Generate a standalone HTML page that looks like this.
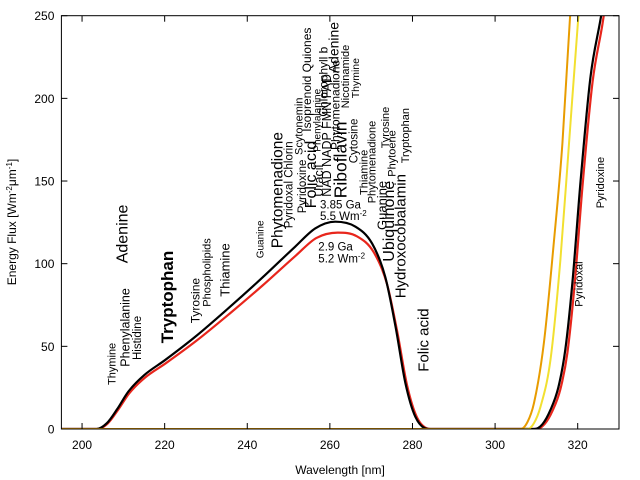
<!DOCTYPE html>
<html><head><meta charset="utf-8"><style>
html,body{margin:0;padding:0;background:#fff;}
svg{display:block;font-family:"Liberation Sans",sans-serif;}
</style></head><body>
<svg id="chart" width="640" height="480" viewBox="0 0 640 480">
<g id="plot"></g>
</svg>
<script>
const xTicks=[200,220,240,260,280,300,320];
const yTicks=[0,50,100,150,200,250];
const black1X=[195,203.5,206,208.5,211.2,215,220.1,227.4,235.4,243.5,251.6,256.5,261.3,266.2,270.2,273.4,275.9,278.3,280.7,283.9,309.5,311.5,313.4,315.3,317,318.7,320.7,323.1,325.5,326.5];
const black1Y=[0,0,3.5,12,22.6,32.5,41.7,55.8,73,91.2,110.3,121.4,125.4,122.4,112.3,92.1,61.9,27.6,7.4,0,0,3,11.5,25,48,88,150,213,247.4,262];
const redX=[195,203.7,206.2,208.7,211.4,215.2,220.3,227.6,235.6,243.7,251.8,256.7,261.9,266.6,270.6,273.8,276.3,278.7,281.1,284.4,310,312,313.9,315.8,317.5,319.2,321.2,323.6,326,327];
const redY=[0,0,3.3,11.5,21.5,31,39.8,53.2,69.5,86.8,105,115.5,118.8,116.5,107,88,59,26.3,7,0,0,3,11,24,46,86,148,210,245,262];
const orangeX=[195,306.2,307.8,309.4,311.8,314.2,316.3,318.1,318.6];
const orangeY=[0,0,4,15.5,51.8,112.3,172.8,247.4,262];
const yellowX=[195,307.8,309.4,311,313.4,315.8,317.9,320.1,320.6];
const yellowY=[0,0,3.5,13.5,41.7,102,172.8,247.4,262];
const labelText=["Thymine","Phenylalanine","Histidine","Adenine","Tryptophan","Tyrosine","Phospholipids","Thiamine","Guanine","Phytomenadione","Pyridoxal  Chlorin","Scytonemin","Pyridoxine","Folic acid","Isoprenoid Quiones","Uracil","NAD NADP FMN FAD","Phenylalanine","Chlorophyll b","Riboflavin","Phytomenadione","Adenine","Nicotinamide","Thymine","Cytosine","Thiamine","Phytomenadione","Guanine","Ubiquinone","Hydroxocobalamin","Tyrosine","Phytoene","Tryptophan","Folic acid","Pyridoxal","Pyridoxine"];
const labelCx=[111.7,125,136.7,121.7,166.7,195,206.7,225,260,276.7,288.3,298.3,301.7,310,306.7,318.3,326.7,316.7,323.3,340,335,333.3,345,355,353.3,363.3,371.7,381.7,388.3,400,385,391.7,405,423.3,578.3,600];
const labelBottom=[385,366.7,360,263.3,343.3,323.3,306.7,296.7,258.3,248.3,228.3,155,213.3,208.3,131.7,196.7,196.7,151.7,116.7,198.3,150,73.3,108.3,98.3,163.3,195,203.3,230,261.7,298.3,148.3,176.7,163.3,371.7,306.7,208.3];
const labelSize=[11,12.5,11.5,16,17,12,11,13,10,15.5,11.5,11,11.5,16,12,12.5,12.5,10,12,17.5,12,14,11,10.5,11.5,11,11,13,16,15,11,11,11,15,11,11];
const labelBold=[0,0,0,0,1,0,0,0,0,0,0,0,0,0,0,0,0,0,0,0,0,0,0,0,0,0,0,0,0,0,0,0,0,0,0,0];

const NS="http://www.w3.org/2000/svg";
const svg=document.getElementById('chart');
const plot=document.getElementById('plot');
const L=61.4,R=619,T=15.7,B=429;
const X0=195,X1=330,Y0=0,Y1=250;
function sx(v){return L+(v-X0)/(X1-X0)*(R-L);}
function sy(v){return B-(v-Y0)/(Y1-Y0)*(B-T);}
function mk(tag,attrs,parent){const e=document.createElementNS(NS,tag);for(const k in attrs)e.setAttribute(k,attrs[k]);(parent||svg).appendChild(e);return e;}

const defs=mk('defs',{});
const cp=mk('clipPath',{id:'clip'},defs);
mk('rect',{x:L,y:T,width:R-L,height:B-T},cp);

function monotonePath(xs,ys){
  const px=xs.map(sx),py=ys.map(sy),n=px.length;
  const d=[],m=[];
  for(let i=0;i<n-1;i++)d.push((py[i+1]-py[i])/(px[i+1]-px[i]));
  m[0]=d[0];m[n-1]=d[n-2];
  for(let i=1;i<n-1;i++){ if(d[i-1]*d[i]<=0)m[i]=0; else m[i]=(d[i-1]+d[i])/2; }
  for(let i=0;i<n-1;i++){ if(d[i]===0){m[i]=0;m[i+1]=0;continue;} const a=m[i]/d[i],b=m[i+1]/d[i],s=a*a+b*b; if(s>9){const t=3/Math.sqrt(s);m[i]=t*a*d[i];m[i+1]=t*b*d[i];} }
  let p='M'+px[0]+','+py[0];
  for(let i=0;i<n-1;i++){const h=(px[i+1]-px[i])/3;p+='C'+(px[i]+h)+','+(py[i]+m[i]*h)+' '+(px[i+1]-h)+','+(py[i+1]-m[i+1]*h)+' '+px[i+1]+','+py[i+1];}
  return p;
}
const g=mk('g',{'clip-path':'url(#clip)'},plot);
let el;
el=mk('path',{d:monotonePath(redX,redY),fill:'none',stroke:'#e8261c','stroke-width':2.2,'stroke-linejoin':'round'},g);


el=mk('path',{d:monotonePath(black1X,black1Y),fill:'none',stroke:'#000','stroke-width':2.2,'stroke-linejoin':'round'},g);


el=mk('path',{d:monotonePath(yellowX,yellowY),fill:'none',stroke:'#f2e030','stroke-width':2},g);


el=mk('path',{d:monotonePath(orangeX,orangeY),fill:'none',stroke:'#e89c00','stroke-width':2},g);



el=mk('rect',{x:L,y:T,width:R-L,height:B-T,fill:'none',stroke:'#000','stroke-width':1});


xTicks.forEach(v=>{
  const x=sx(v);
  mk('line',{x1:x,x2:x,y1:B,y2:B-6,stroke:'#000'});
  mk('line',{x1:x,x2:x,y1:T,y2:T+6,stroke:'#000'});
  const t=mk('text',{x:x,y:B+20,'text-anchor':'middle','font-size':12,fill:'#000'});
  t.textContent=v;
  
  
});
yTicks.forEach(v=>{
  const y=sy(v);
  mk('line',{x1:L,x2:L+6,y1:y,y2:y,stroke:'#000'});
  mk('line',{x1:R,x2:R-6,y1:y,y2:y,stroke:'#000'});
  const t=mk('text',{x:L-7,y:y+4.5,'text-anchor':'end','font-size':12,fill:'#000'});
  t.textContent=v;
  
  
});

labelText.forEach((s,i)=>{
  const fs=labelSize[i];
  const t=mk('text',{transform:'translate('+(labelCx[i]+fs*0.36)+','+labelBottom[i]+') rotate(-90)','font-size':fs,fill:'#000','font-weight':labelBold[i]?'bold':'normal','xml:space':'preserve'});
  t.textContent=s;
  
  
});
</script>
<svg style="position:absolute;left:0;top:0" width="640" height="480">
<text x="320" y="208.3" font-size="11.5" font-family="Liberation Sans, sans-serif">3.85 Ga</text>
<text x="320" y="220" font-size="11.5" font-family="Liberation Sans, sans-serif">5.5 Wm<tspan dy="-4" font-size="8">-2</tspan></text>
<text x="318.3" y="250.7" font-size="11.5" font-family="Liberation Sans, sans-serif">2.9 Ga</text>
<text x="318.3" y="262.7" font-size="11.5" font-family="Liberation Sans, sans-serif">5.2 Wm<tspan dy="-4" font-size="8">-2</tspan></text>
<text x="340" y="474" text-anchor="middle" font-size="12" font-family="Liberation Sans, sans-serif">Wavelength [nm]</text>
<text transform="translate(16,222) rotate(-90)" text-anchor="middle" font-size="12" font-family="Liberation Sans, sans-serif">Energy Flux [Wm<tspan dy="-4" font-size="8">-2</tspan><tspan dy="4">μm</tspan><tspan dy="-4" font-size="8">-1</tspan><tspan dy="4">]</tspan></text>
</svg>
</body></html>
